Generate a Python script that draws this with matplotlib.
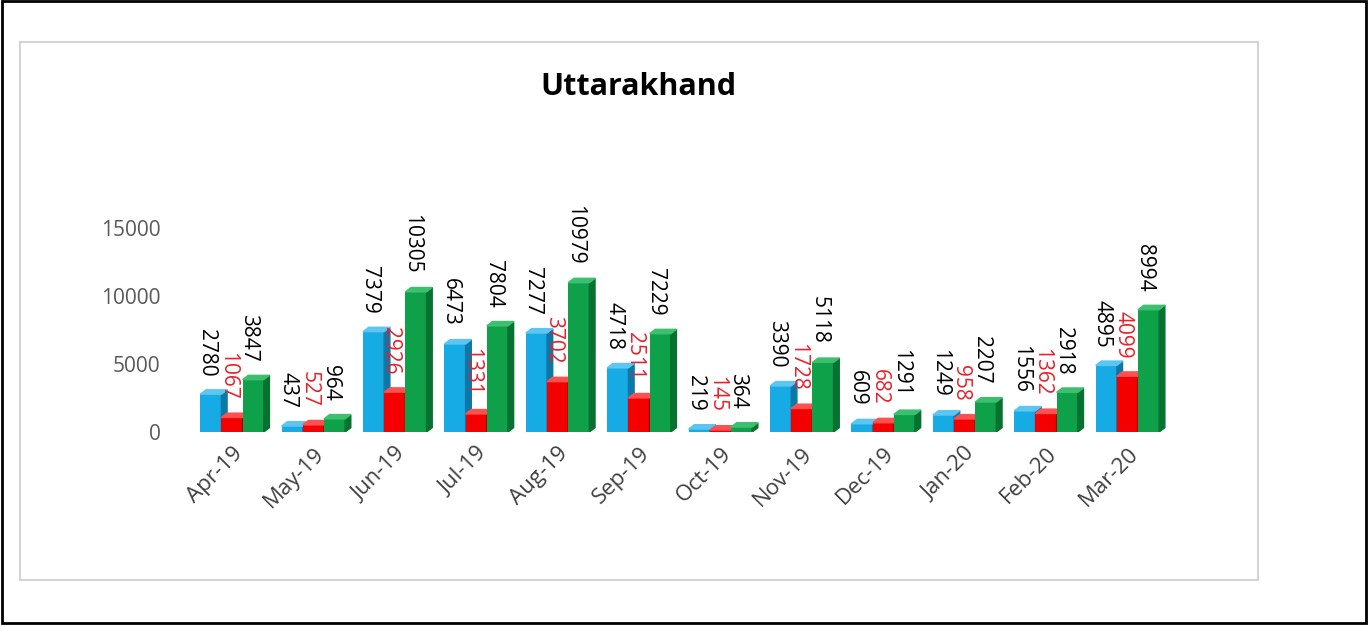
import matplotlib.pyplot as plt
from matplotlib.patches import Polygon, Rectangle

plt.rcParams['font.family'] = ['Open Sans', 'DejaVu Sans']

months = ['Apr-19', 'May-19', 'Jun-19', 'Jul-19', 'Aug-19', 'Sep-19',
          'Oct-19', 'Nov-19', 'Dec-19', 'Jan-20', 'Feb-20', 'Mar-20']
blue_vals = [2780, 437, 7379, 6473, 7277, 4718, 219, 3390, 609, 1249, 1556, 4895]
red_vals = [1067, 527, 2926, 1331, 3702, 2511, 145, 1728, 682, 958, 1362, 4099]
green_vals = [3847, 964, 10305, 7804, 10979, 7229, 364, 5118, 1291, 2207, 2918, 8994]

# front, side, top colours and label colour for each series
series = [
    (blue_vals, '#17ABE6', '#0D78A8', '#5CC6F0', 'black', -0.26),
    (red_vals, '#F40000', '#A60000', '#FF5050', '#E8202A', 0.0),
    (green_vals, '#0FA04A', '#07712F', '#3CC070', 'black', 0.26),
]

fig = plt.figure(figsize=(13.72, 6.27), dpi=100)
ax = fig.add_axes([0.1394, 0.311, 0.712, 0.3254])

w = 0.26
dx = 0.07     # depth of the fake 3d side, in category units
dy = 320      # depth of the fake 3d top, in data units

for vals, front, side, top, lab_col, off in series:
    xs = [i + off for i in range(len(months))]
    ax.bar(xs, vals, width=w, color=front, zorder=3)
    for x, h in zip(xs, vals):
        x0 = x - w / 2
        x1 = x + w / 2
        ax.add_patch(Polygon([(x1, 0), (x1 + dx, dy), (x1 + dx, h + dy), (x1, h)],
                             closed=True, color=side, zorder=3))
        ax.add_patch(Polygon([(x0, h), (x0 + dx, h + dy), (x1 + dx, h + dy), (x1, h)],
                             closed=True, color=top, zorder=3))
        ax.annotate(str(h), (x, h), xytext=(-3, 13), textcoords='offset points',
                    rotation=270, ha='center', va='bottom', fontsize=15,
                    color=lab_col, zorder=5, annotation_clip=False)

ax.set_xlim(-0.5, 11.5)
ax.set_ylim(0, 15000)
ax.set_yticks([0, 5000, 10000, 15000])
ax.set_xticks(range(len(months)))
ax.set_xticklabels(months, rotation=45, ha='right', rotation_mode='anchor',
                   fontsize=16, color='#404040')
ax.tick_params(axis='y', labelsize=15, labelcolor='#595959', length=0, pad=22)
ax.tick_params(axis='x', length=0, pad=8)
for s in ax.spines.values():
    s.set_visible(False)
ax.patch.set_alpha(0)

fig.text(0.4655, 0.862, 'Uttarakhand', ha='center', va='center',
         fontsize=22, fontweight='bold', color='black')

# chart area box
fig.add_artist(Rectangle((0.0146, 0.075), 0.902, 0.858, transform=fig.transFigure,
                         fill=False, edgecolor='#D4D4D4', linewidth=1.5))
# outer page border
fig.add_artist(Rectangle((0.0015, 0.0064), 0.994, 0.9915, transform=fig.transFigure,
                         fill=False, edgecolor='black', linewidth=2))

fig.savefig('out.png', dpi=100)
